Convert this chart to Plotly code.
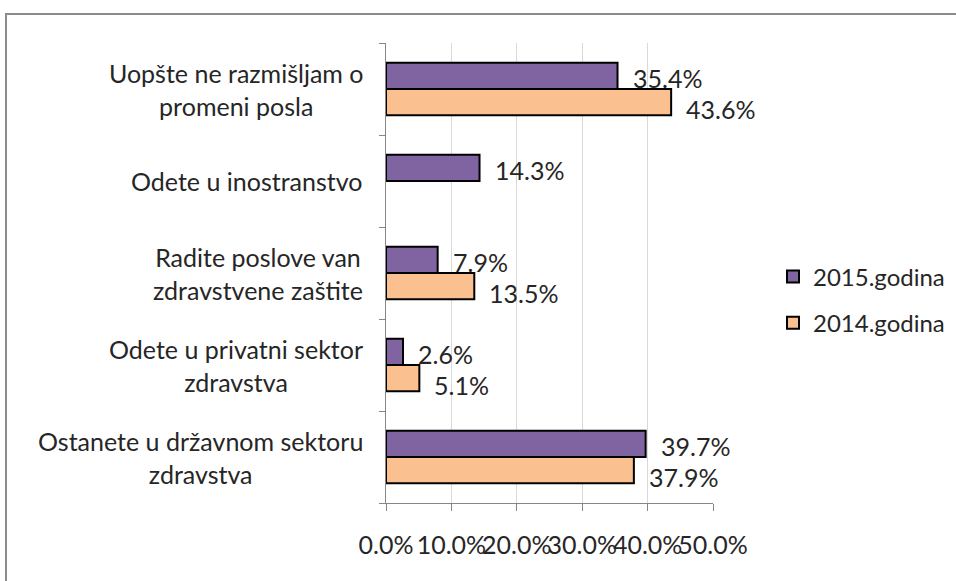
import plotly.graph_objects as go

# Data (categories listed bottom-to-top)
categories = [
    "Ostanete u državnom sektoru<br>zdravstva",
    "Odete u privatni sektor<br>zdravstva",
    "Radite poslove van<br>zdravstvene zaštite",
    "Odete u inostranstvo",
    "Uopšte ne razmišljam o<br>promeni posla",
]
values_2015 = [39.7, 2.6, 7.9, 14.3, 35.4]
values_2014 = [37.9, 5.1, 13.5, None, 43.6]
series_names = ["2015.godina", "2014.godina"]
x_ticks = [0, 10, 20, 30, 40, 50]
x_tick_labels = ["0.0%", "10.0%", "20.0%", "30.0%", "40.0%", "50.0%"]

PURPLE = "#8064A2"
ORANGE = "#FAC090"
TEXT = "#262626"
FONT = "Lato"
FS = 25

W, H = 956, 581
L, R, T, B = 386, 713, 43, 503

fig = go.Figure()
fig.add_trace(go.Bar(
    y=categories, x=values_2014, orientation="h", name=series_names[1],
    marker=dict(color=ORANGE, line=dict(color="black", width=2)),
    legendgroup="g2014", legendrank=2, hoverinfo="skip",
))
fig.add_trace(go.Bar(
    y=categories, x=values_2015, orientation="h", name=series_names[0],
    marker=dict(color=PURPLE, line=dict(color="black", width=2)),
    legendgroup="g2015", legendrank=1, hoverinfo="skip",
))

annotations = []
# value labels
for vals, ysh in ((values_2015, 11), (values_2014, -20)):
    for c, v in zip(categories, vals):
        if v is None:
            continue
        annotations.append(dict(
            x=v, y=c, xref="x", yref="y", text=f"{v:.1f}%",
            showarrow=False, xanchor="left", yanchor="middle",
            xshift=13, yshift=ysh, font=dict(family=FONT, size=FS, color=TEXT),
        ))
# category labels (centered multi-line)
for c in categories:
    annotations.append(dict(
        x=0, y=c, xref="paper", yref="y", text=c, showarrow=False,
        xanchor="right", yanchor="middle", align="center", xshift=-21,
        font=dict(family=FONT, size=FS, color=TEXT),
    ))

pw, ph = R - L, B - T
def px(p):
    return (p - L) / pw
def py(p):
    return (B - p) / ph

fig.update_layout(
    width=W, height=H,
    margin=dict(l=L, r=W - R, t=T, b=H - B, autoexpand=False),
    paper_bgcolor="white", plot_bgcolor="white",
    barmode="group", bargap=0.43, bargroupgap=0,
    font=dict(family=FONT, size=FS, color=TEXT),
    showlegend=True,
    legend=dict(
        x=px(773), y=py(300), xanchor="left", yanchor="middle",
        font=dict(family=FONT, size=24, color=TEXT),
        tracegroupgap=12, bgcolor="rgba(0,0,0,0)",
    ),
    annotations=annotations,
    shapes=[dict(
        type="rect", xref="paper", yref="paper",
        x0=px(6), x1=px(958), y0=py(595), y1=py(14),
        line=dict(color="#8C8C8C", width=2), layer="below",
    )],
)
fig.update_xaxes(
    range=[0, 50], tickmode="array", tickvals=x_ticks, ticktext=x_tick_labels,
    tickangle=0, showgrid=True, gridcolor="#D9D9D9", gridwidth=1,
    showline=True, linecolor="#868686", linewidth=1,
    ticks="outside", ticklen=7, tickcolor="#868686",
    ticklabelstandoff=13, zeroline=False,
    tickfont=dict(family=FONT, size=FS, color=TEXT),
)
fig.update_yaxes(
    categoryorder="array", categoryarray=categories,
    showticklabels=False, showline=True, linecolor="#868686", linewidth=1,
    ticks="outside", ticklen=6, tickcolor="#868686", tickson="boundaries",
    showgrid=False, zeroline=False, mirror=False,
)

fig.write_html(
    "out.html",
    config={"displayModeBar": False},
    post_script="document.body.style.margin='0';document.body.style.overflow='hidden';",
)
